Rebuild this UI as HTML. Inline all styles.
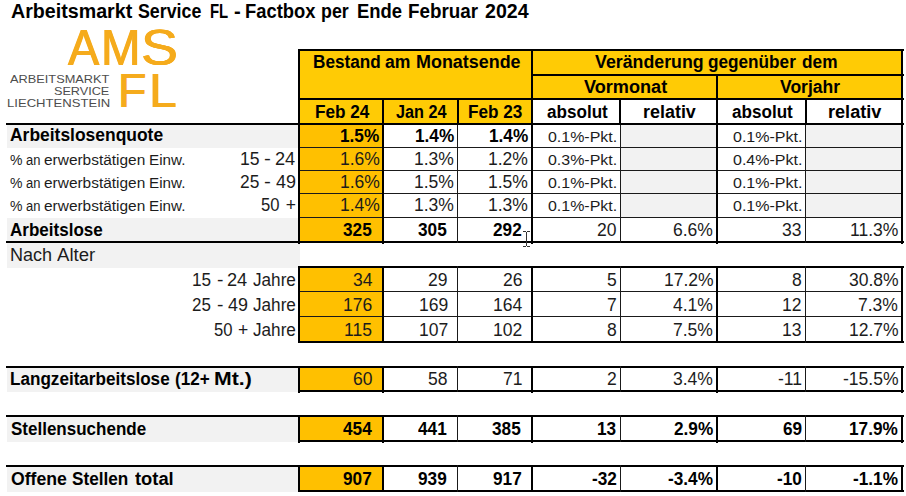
<!DOCTYPE html>
<html lang="de">
<head>
<meta charset="utf-8">
<title>Arbeitsmarkt Service FL - Factbox</title>
<style>
html,body{margin:0;padding:0;background:#fff;}
#pg{position:relative;width:906px;height:496px;overflow:hidden;background:#fff;font-family:"Liberation Sans",sans-serif;}
#pg i{position:absolute;display:block;}
#pg span{position:absolute;display:block;white-space:nowrap;line-height:0;height:0;transform-origin:0 0;font-weight:normal;}
#pg span.b{font-weight:bold;}
</style>
</head>
<body>
<div id="pg">
<i style="left:300px;top:51px;width:231px;height:47px;background:#FFCB05"></i>
<i style="left:300px;top:100px;width:231px;height:23px;background:#FFCB05"></i>
<i style="left:533px;top:51px;width:368px;height:23px;background:#FFCB05"></i>
<i style="left:533px;top:76px;width:368px;height:22px;background:#FFCB05"></i>
<i style="left:300px;top:125px;width:82px;height:116px;background:#FFC000"></i>
<i style="left:300px;top:268px;width:82px;height:73px;background:#FFC000"></i>
<i style="left:300px;top:368px;width:82px;height:22px;background:#FFC000"></i>
<i style="left:300px;top:417px;width:82px;height:23px;background:#FFC000"></i>
<i style="left:300px;top:467px;width:82px;height:23px;background:#FFC000"></i>
<i style="left:621px;top:125px;width:95px;height:92px;background:#F2F2F2"></i>
<i style="left:806px;top:125px;width:95px;height:92px;background:#F2F2F2"></i>
<i style="left:7px;top:125px;width:291px;height:23px;background:#F2F2F2"></i>
<i style="left:7px;top:218px;width:291px;height:23px;background:#F2F2F2"></i>
<i style="left:7px;top:243px;width:293px;height:25px;background:#F2F2F2"></i>
<i style="left:7px;top:368px;width:291px;height:24px;background:#F2F2F2"></i>
<i style="left:7px;top:417px;width:291px;height:25px;background:#F2F2F2"></i>
<i style="left:7px;top:467px;width:291px;height:25px;background:#F2F2F2"></i>
<i style="left:298px;top:49px;width:606px;height:2px;background:#000"></i>
<i style="left:531px;top:74px;width:373px;height:2px;background:#000"></i>
<i style="left:298px;top:98px;width:606px;height:2px;background:#000"></i>
<i style="left:6px;top:123px;width:898px;height:2px;background:#000"></i>
<i style="left:6px;top:241px;width:898px;height:2px;background:#000"></i>
<i style="left:298px;top:266px;width:606px;height:2px;background:#000"></i>
<i style="left:298px;top:341px;width:606px;height:2px;background:#000"></i>
<i style="left:6px;top:366px;width:898px;height:2px;background:#000"></i>
<i style="left:298px;top:390px;width:606px;height:2px;background:#000"></i>
<i style="left:6px;top:415px;width:898px;height:2px;background:#000"></i>
<i style="left:298px;top:440px;width:606px;height:2px;background:#000"></i>
<i style="left:6px;top:465px;width:898px;height:2px;background:#000"></i>
<i style="left:298px;top:490px;width:606px;height:2px;background:#000"></i>
<i style="left:300px;top:147px;width:601px;height:1px;background:#1a1a1a"></i>
<i style="left:300px;top:170px;width:601px;height:1px;background:#1a1a1a"></i>
<i style="left:300px;top:193px;width:601px;height:1px;background:#1a1a1a"></i>
<i style="left:300px;top:217px;width:601px;height:1px;background:#1a1a1a"></i>
<i style="left:300px;top:291px;width:601px;height:1px;background:#1a1a1a"></i>
<i style="left:300px;top:316px;width:601px;height:1px;background:#1a1a1a"></i>
<i style="left:298px;top:49px;width:2px;height:195px;background:#000"></i>
<i style="left:382px;top:98px;width:2px;height:146px;background:#000"></i>
<i style="left:531px;top:49px;width:2px;height:195px;background:#000"></i>
<i style="left:716px;top:74px;width:2px;height:170px;background:#000"></i>
<i style="left:901px;top:49px;width:2px;height:195px;background:#000"></i>
<i style="left:457px;top:98px;width:2px;height:27px;background:#000"></i>
<i style="left:457px;top:125px;width:1px;height:118px;background:#1a1a1a"></i>
<i style="left:619px;top:98px;width:2px;height:27px;background:#000"></i>
<i style="left:620px;top:125px;width:1px;height:118px;background:#1a1a1a"></i>
<i style="left:805px;top:98px;width:2px;height:27px;background:#000"></i>
<i style="left:805px;top:125px;width:1px;height:118px;background:#1a1a1a"></i>
<i style="left:298px;top:266px;width:2px;height:77px;background:#000"></i>
<i style="left:382px;top:266px;width:2px;height:77px;background:#000"></i>
<i style="left:531px;top:266px;width:2px;height:77px;background:#000"></i>
<i style="left:716px;top:266px;width:2px;height:77px;background:#000"></i>
<i style="left:901px;top:266px;width:2px;height:77px;background:#000"></i>
<i style="left:457px;top:266px;width:1px;height:77px;background:#1a1a1a"></i>
<i style="left:620px;top:266px;width:1px;height:77px;background:#1a1a1a"></i>
<i style="left:805px;top:266px;width:1px;height:77px;background:#1a1a1a"></i>
<i style="left:298px;top:366px;width:2px;height:27px;background:#000"></i>
<i style="left:382px;top:366px;width:2px;height:27px;background:#000"></i>
<i style="left:531px;top:366px;width:2px;height:27px;background:#000"></i>
<i style="left:716px;top:366px;width:2px;height:27px;background:#000"></i>
<i style="left:901px;top:366px;width:2px;height:27px;background:#000"></i>
<i style="left:457px;top:366px;width:1px;height:26px;background:#1a1a1a"></i>
<i style="left:620px;top:366px;width:1px;height:26px;background:#1a1a1a"></i>
<i style="left:805px;top:366px;width:1px;height:26px;background:#1a1a1a"></i>
<i style="left:298px;top:415px;width:2px;height:28px;background:#000"></i>
<i style="left:382px;top:415px;width:2px;height:28px;background:#000"></i>
<i style="left:531px;top:415px;width:2px;height:28px;background:#000"></i>
<i style="left:716px;top:415px;width:2px;height:28px;background:#000"></i>
<i style="left:901px;top:415px;width:2px;height:28px;background:#000"></i>
<i style="left:457px;top:415px;width:1px;height:27px;background:#1a1a1a"></i>
<i style="left:620px;top:415px;width:1px;height:27px;background:#1a1a1a"></i>
<i style="left:805px;top:415px;width:1px;height:27px;background:#1a1a1a"></i>
<i style="left:298px;top:465px;width:2px;height:27px;background:#000"></i>
<i style="left:382px;top:465px;width:2px;height:27px;background:#000"></i>
<i style="left:531px;top:465px;width:2px;height:27px;background:#000"></i>
<i style="left:716px;top:465px;width:2px;height:27px;background:#000"></i>
<i style="left:901px;top:465px;width:2px;height:27px;background:#000"></i>
<i style="left:457px;top:465px;width:1px;height:27px;background:#1a1a1a"></i>
<i style="left:620px;top:465px;width:1px;height:27px;background:#1a1a1a"></i>
<i style="left:805px;top:465px;width:1px;height:27px;background:#1a1a1a"></i>
<i style="left:526px;top:232px;width:1px;height:14px;background:#333"></i>
<i style="left:523px;top:231px;width:3px;height:1px;background:#333"></i>
<i style="left:527px;top:231px;width:3px;height:1px;background:#333"></i>
<i style="left:523px;top:246px;width:3px;height:1px;background:#333"></i>
<i style="left:527px;top:246px;width:3px;height:1px;background:#333"></i>
<span class="b" style="left:11.09px;top:11.10px;font-size:19.4px;color:#000;transform:scaleX(1.0134)">Arbeitsmarkt</span>
<span class="b" style="left:137.94px;top:11.10px;font-size:19.4px;color:#000;transform:scaleX(0.9181)">Service</span>
<span class="b" style="left:209.64px;top:11.10px;font-size:19.4px;color:#000;transform:scaleX(0.7682)">FL</span>
<span class="b" style="left:234.02px;top:11.10px;font-size:19.4px;color:#000;transform:scaleX(1.0400)">-</span>
<span class="b" style="left:245.12px;top:11.10px;font-size:19.4px;color:#000;transform:scaleX(0.9471)">Factbox</span>
<span class="b" style="left:321.45px;top:11.10px;font-size:19.4px;color:#000;transform:scaleX(0.9183)">per</span>
<span class="b" style="left:356.51px;top:11.10px;font-size:19.4px;color:#000;transform:scaleX(0.9516)">Ende</span>
<span class="b" style="left:408.09px;top:11.10px;font-size:19.4px;color:#000;transform:scaleX(0.9696)">Februar</span>
<span class="b" style="left:484.64px;top:11.10px;font-size:19.4px;color:#000;transform:scaleX(1.0107)">2024</span>
<span class="b" style="left:312.87px;top:62.10px;font-size:17.5px;color:#000;transform:scaleX(0.9813)">Bestand</span>
<span class="b" style="left:385.40px;top:62.10px;font-size:17.5px;color:#000;transform:scaleX(1.0063)">am</span>
<span class="b" style="left:415.62px;top:62.10px;font-size:17.5px;color:#000;transform:scaleX(1.0244)">Monatsende</span>
<span class="b" style="left:595.25px;top:62.10px;font-size:17.5px;color:#000;transform:scaleX(1.0161)">Veränderung</span>
<span class="b" style="left:708.36px;top:62.10px;font-size:17.5px;color:#000;transform:scaleX(0.9819)">gegenüber</span>
<span class="b" style="left:801.56px;top:62.10px;font-size:17.5px;color:#000;transform:scaleX(0.9869)">dem</span>
<span class="b" style="left:584.24px;top:87.10px;font-size:17.5px;color:#000;transform:scaleX(1.0350)">Vormonat</span>
<span class="b" style="left:780.35px;top:87.10px;font-size:17.5px;color:#000;transform:scaleX(1.0017)">Vorjahr</span>
<span class="b" style="left:314.67px;top:112.10px;font-size:17.5px;color:#000;transform:scaleX(0.9815)">Feb 24</span>
<span class="b" style="left:395.67px;top:112.10px;font-size:17.5px;color:#000;transform:scaleX(0.9272)">Jan 24</span>
<span class="b" style="left:468.27px;top:112.10px;font-size:17.5px;color:#000;transform:scaleX(0.9813)">Feb 23</span>
<span class="b" style="left:546.71px;top:112.10px;font-size:17.5px;color:#000;transform:scaleX(0.9772)">absolut</span>
<span class="b" style="left:642.82px;top:112.10px;font-size:17.5px;color:#000;transform:scaleX(1.0249)">relativ</span>
<span class="b" style="left:731.51px;top:112.10px;font-size:17.5px;color:#000;transform:scaleX(0.9772)">absolut</span>
<span class="b" style="left:827.71px;top:112.10px;font-size:17.5px;color:#000;transform:scaleX(1.0348)">relativ</span>
<span class="b" style="left:10.40px;top:135.10px;font-size:17.5px;color:#000;transform:scaleX(0.9967)">Arbeitslosenquote</span>
<span class="b" style="left:10.41px;top:230.10px;font-size:17.5px;color:#000;transform:scaleX(0.9729)">Arbeitslose</span>
<span class="b" style="left:10.38px;top:379.11px;font-size:17.5px;color:#000;transform:scaleX(0.9771)">Langzeitarbeitslose</span>
<span class="b" style="left:174.72px;top:379.11px;font-size:17.5px;color:#000;transform:scaleX(0.9778)">(12+</span>
<span class="b" style="left:214.38px;top:379.11px;font-size:17.5px;color:#000;transform:scaleX(1.2138)">Mt.)</span>
<span class="b" style="left:11.11px;top:429.11px;font-size:17.5px;color:#000;transform:scaleX(0.9717)">Stellensuchende</span>
<span class="b" style="left:10.84px;top:479.11px;font-size:17.5px;color:#000;transform:scaleX(1.0093)">Offene</span>
<span class="b" style="left:72.11px;top:479.11px;font-size:17.5px;color:#000;transform:scaleX(0.9812)">Stellen</span>
<span class="b" style="left:134.54px;top:479.11px;font-size:17.5px;color:#000;transform:scaleX(1.0479)">total</span>
<span style="left:10.35px;top:255.11px;font-size:17.5px;color:#1c1c1c;transform:scaleX(1.0301)">Nach</span>
<span style="left:57.00px;top:255.11px;font-size:17.5px;color:#1c1c1c;transform:scaleX(1.0629)">Alter</span>
<span style="left:10.10px;top:160.10px;font-size:14.0px;color:#1c1c1c;transform:scaleX(1.0000)">%</span>
<span style="left:26.04px;top:160.10px;font-size:14.0px;color:#1c1c1c;transform:scaleX(0.9263)">an</span>
<span style="left:44.25px;top:160.10px;font-size:14.0px;color:#1c1c1c;transform:scaleX(1.1028)">erwerbstätigen</span>
<span style="left:148.74px;top:160.10px;font-size:14.0px;color:#1c1c1c;transform:scaleX(1.0871)">Einw.</span>
<span style="left:10.10px;top:183.10px;font-size:14.0px;color:#1c1c1c;transform:scaleX(1.0000)">%</span>
<span style="left:26.04px;top:183.10px;font-size:14.0px;color:#1c1c1c;transform:scaleX(0.9263)">an</span>
<span style="left:44.25px;top:183.10px;font-size:14.0px;color:#1c1c1c;transform:scaleX(1.1028)">erwerbstätigen</span>
<span style="left:148.74px;top:183.10px;font-size:14.0px;color:#1c1c1c;transform:scaleX(1.0871)">Einw.</span>
<span style="left:10.10px;top:206.10px;font-size:14.0px;color:#1c1c1c;transform:scaleX(1.0000)">%</span>
<span style="left:26.04px;top:206.10px;font-size:14.0px;color:#1c1c1c;transform:scaleX(0.9263)">an</span>
<span style="left:44.25px;top:206.10px;font-size:14.0px;color:#1c1c1c;transform:scaleX(1.1028)">erwerbstätigen</span>
<span style="left:148.74px;top:206.10px;font-size:14.0px;color:#1c1c1c;transform:scaleX(1.0871)">Einw.</span>
<span style="left:239.64px;top:159.10px;font-size:17.5px;color:#1c1c1c;transform:scaleX(1.0057)">15</span>
<span style="left:264.12px;top:159.10px;font-size:17.5px;color:#1c1c1c;transform:scaleX(1.1765)">-</span>
<span style="left:275.16px;top:159.10px;font-size:17.5px;color:#1c1c1c;transform:scaleX(1.0389)">24</span>
<span style="left:239.91px;top:182.10px;font-size:17.5px;color:#1c1c1c;transform:scaleX(0.9915)">25</span>
<span style="left:264.12px;top:182.10px;font-size:17.5px;color:#1c1c1c;transform:scaleX(1.1765)">-</span>
<span style="left:275.69px;top:182.10px;font-size:17.5px;color:#1c1c1c;transform:scaleX(1.0247)">49</span>
<span style="left:261.39px;top:205.10px;font-size:17.5px;color:#1c1c1c;transform:scaleX(0.9500)">50</span>
<span style="left:285.65px;top:205.10px;font-size:17.5px;color:#1c1c1c;transform:scaleX(1.0000)">+</span>
<span style="left:191.77px;top:280.11px;font-size:17.5px;color:#1c1c1c;transform:scaleX(0.9829)">15</span>
<span style="left:217.27px;top:280.11px;font-size:17.5px;color:#1c1c1c;transform:scaleX(1.1059)">-</span>
<span style="left:227.46px;top:280.11px;font-size:17.5px;color:#1c1c1c;transform:scaleX(1.0389)">24</span>
<span style="left:252.85px;top:280.11px;font-size:17.5px;color:#1c1c1c;transform:scaleX(0.9801)">Jahre</span>
<span style="left:192.03px;top:305.11px;font-size:17.5px;color:#1c1c1c;transform:scaleX(0.9690)">25</span>
<span style="left:217.27px;top:305.11px;font-size:17.5px;color:#1c1c1c;transform:scaleX(1.1059)">-</span>
<span style="left:227.99px;top:305.11px;font-size:17.5px;color:#1c1c1c;transform:scaleX(1.0247)">49</span>
<span style="left:252.85px;top:305.11px;font-size:17.5px;color:#1c1c1c;transform:scaleX(0.9801)">Jahre</span>
<span style="left:213.69px;top:330.11px;font-size:17.5px;color:#1c1c1c;transform:scaleX(0.9500)">50</span>
<span style="left:237.95px;top:330.11px;font-size:17.5px;color:#1c1c1c;transform:scaleX(1.0000)">+</span>
<span style="left:252.85px;top:330.11px;font-size:17.5px;color:#1c1c1c;transform:scaleX(0.9801)">Jahre</span>
<span class="b" style="left:340.35px;top:136.10px;font-size:17.5px;color:#000;transform:scaleX(0.9835)">1.5%</span>
<span class="b" style="left:414.85px;top:136.10px;font-size:17.5px;color:#000;transform:scaleX(0.9835)">1.4%</span>
<span class="b" style="left:488.75px;top:136.10px;font-size:17.5px;color:#000;transform:scaleX(0.9835)">1.4%</span>
<span style="left:548.16px;top:137.10px;font-size:14.8px;color:#1c1c1c;transform:scaleX(1.0779)">0.1%-Pkt.</span>
<span style="left:733.06px;top:137.10px;font-size:14.8px;color:#1c1c1c;transform:scaleX(1.0827)">0.1%-Pkt.</span>
<span style="left:339.88px;top:159.10px;font-size:17.5px;color:#1c1c1c;transform:scaleX(1.0018)">1.6%</span>
<span style="left:414.38px;top:159.10px;font-size:17.5px;color:#1c1c1c;transform:scaleX(1.0018)">1.3%</span>
<span style="left:488.28px;top:159.10px;font-size:17.5px;color:#1c1c1c;transform:scaleX(1.0018)">1.2%</span>
<span style="left:548.16px;top:160.10px;font-size:14.8px;color:#1c1c1c;transform:scaleX(1.0779)">0.3%-Pkt.</span>
<span style="left:733.06px;top:160.10px;font-size:14.8px;color:#1c1c1c;transform:scaleX(1.0827)">0.4%-Pkt.</span>
<span style="left:339.88px;top:182.10px;font-size:17.5px;color:#1c1c1c;transform:scaleX(1.0018)">1.6%</span>
<span style="left:414.38px;top:182.10px;font-size:17.5px;color:#1c1c1c;transform:scaleX(1.0018)">1.5%</span>
<span style="left:488.28px;top:182.10px;font-size:17.5px;color:#1c1c1c;transform:scaleX(1.0018)">1.5%</span>
<span style="left:548.16px;top:183.10px;font-size:14.8px;color:#1c1c1c;transform:scaleX(1.0779)">0.1%-Pkt.</span>
<span style="left:733.06px;top:183.10px;font-size:14.8px;color:#1c1c1c;transform:scaleX(1.0827)">0.1%-Pkt.</span>
<span style="left:339.88px;top:205.10px;font-size:17.5px;color:#1c1c1c;transform:scaleX(1.0018)">1.4%</span>
<span style="left:414.38px;top:205.10px;font-size:17.5px;color:#1c1c1c;transform:scaleX(1.0018)">1.3%</span>
<span style="left:488.28px;top:205.10px;font-size:17.5px;color:#1c1c1c;transform:scaleX(1.0018)">1.3%</span>
<span style="left:548.16px;top:206.10px;font-size:14.8px;color:#1c1c1c;transform:scaleX(1.0779)">0.1%-Pkt.</span>
<span style="left:733.06px;top:206.10px;font-size:14.8px;color:#1c1c1c;transform:scaleX(1.0827)">0.1%-Pkt.</span>
<span class="b" style="left:343.02px;top:230.10px;font-size:17.5px;color:#000;transform:scaleX(0.9835)">325</span>
<span class="b" style="left:417.72px;top:230.10px;font-size:17.5px;color:#000;transform:scaleX(0.9835)">305</span>
<span class="b" style="left:492.67px;top:230.10px;font-size:17.5px;color:#000;transform:scaleX(0.9835)">292</span>
<span style="left:596.92px;top:230.10px;font-size:17.5px;color:#1c1c1c;transform:scaleX(1.0018)">20</span>
<span style="left:673.28px;top:230.10px;font-size:17.5px;color:#1c1c1c;transform:scaleX(1.0018)">6.6%</span>
<span style="left:782.22px;top:230.10px;font-size:17.5px;color:#1c1c1c;transform:scaleX(1.0018)">33</span>
<span style="left:849.96px;top:230.10px;font-size:17.5px;color:#1c1c1c;transform:scaleX(1.0018)">11.3%</span>
<span style="left:352.57px;top:280.11px;font-size:17.5px;color:#1c1c1c;transform:scaleX(1.0018)">34</span>
<span style="left:428.12px;top:280.11px;font-size:17.5px;color:#1c1c1c;transform:scaleX(1.0018)">29</span>
<span style="left:502.62px;top:280.11px;font-size:17.5px;color:#1c1c1c;transform:scaleX(1.0018)">26</span>
<span style="left:606.68px;top:280.11px;font-size:17.5px;color:#1c1c1c;transform:scaleX(1.0018)">5</span>
<span style="left:663.51px;top:280.11px;font-size:17.5px;color:#1c1c1c;transform:scaleX(1.0018)">17.2%</span>
<span style="left:791.98px;top:280.11px;font-size:17.5px;color:#1c1c1c;transform:scaleX(1.0018)">8</span>
<span style="left:848.71px;top:280.11px;font-size:17.5px;color:#1c1c1c;transform:scaleX(1.0018)">30.8%</span>
<span style="left:343.05px;top:305.11px;font-size:17.5px;color:#1c1c1c;transform:scaleX(1.0018)">176</span>
<span style="left:418.60px;top:305.11px;font-size:17.5px;color:#1c1c1c;transform:scaleX(1.0018)">169</span>
<span style="left:492.60px;top:305.11px;font-size:17.5px;color:#1c1c1c;transform:scaleX(1.0018)">164</span>
<span style="left:606.93px;top:305.11px;font-size:17.5px;color:#1c1c1c;transform:scaleX(1.0018)">7</span>
<span style="left:673.28px;top:305.11px;font-size:17.5px;color:#1c1c1c;transform:scaleX(1.0018)">4.1%</span>
<span style="left:782.47px;top:305.11px;font-size:17.5px;color:#1c1c1c;transform:scaleX(1.0018)">12</span>
<span style="left:858.48px;top:305.11px;font-size:17.5px;color:#1c1c1c;transform:scaleX(1.0018)">7.3%</span>
<span style="left:344.30px;top:330.11px;font-size:17.5px;color:#1c1c1c;transform:scaleX(1.0018)">115</span>
<span style="left:418.60px;top:330.11px;font-size:17.5px;color:#1c1c1c;transform:scaleX(1.0018)">107</span>
<span style="left:493.10px;top:330.11px;font-size:17.5px;color:#1c1c1c;transform:scaleX(1.0018)">102</span>
<span style="left:606.68px;top:330.11px;font-size:17.5px;color:#1c1c1c;transform:scaleX(1.0018)">8</span>
<span style="left:673.28px;top:330.11px;font-size:17.5px;color:#1c1c1c;transform:scaleX(1.0018)">7.5%</span>
<span style="left:782.22px;top:330.11px;font-size:17.5px;color:#1c1c1c;transform:scaleX(1.0018)">13</span>
<span style="left:848.71px;top:330.11px;font-size:17.5px;color:#1c1c1c;transform:scaleX(1.0018)">12.7%</span>
<span style="left:352.82px;top:379.11px;font-size:17.5px;color:#1c1c1c;transform:scaleX(1.0018)">60</span>
<span style="left:428.12px;top:379.11px;font-size:17.5px;color:#1c1c1c;transform:scaleX(1.0018)">58</span>
<span style="left:502.62px;top:379.11px;font-size:17.5px;color:#1c1c1c;transform:scaleX(1.0018)">71</span>
<span style="left:606.93px;top:379.11px;font-size:17.5px;color:#1c1c1c;transform:scaleX(1.0018)">2</span>
<span style="left:673.28px;top:379.11px;font-size:17.5px;color:#1c1c1c;transform:scaleX(1.0018)">3.4%</span>
<span style="left:777.71px;top:379.11px;font-size:17.5px;color:#1c1c1c;transform:scaleX(1.0018)">-11</span>
<span style="left:842.95px;top:379.11px;font-size:17.5px;color:#1c1c1c;transform:scaleX(1.0018)">-15.5%</span>
<span class="b" style="left:342.78px;top:429.11px;font-size:17.5px;color:#000;transform:scaleX(0.9835)">454</span>
<span class="b" style="left:417.72px;top:429.11px;font-size:17.5px;color:#000;transform:scaleX(0.9835)">441</span>
<span class="b" style="left:492.42px;top:429.11px;font-size:17.5px;color:#000;transform:scaleX(0.9835)">385</span>
<span class="b" style="left:597.26px;top:429.11px;font-size:17.5px;color:#000;transform:scaleX(0.9835)">13</span>
<span class="b" style="left:673.75px;top:429.11px;font-size:17.5px;color:#000;transform:scaleX(0.9835)">2.9%</span>
<span class="b" style="left:782.56px;top:429.11px;font-size:17.5px;color:#000;transform:scaleX(0.9835)">69</span>
<span class="b" style="left:849.36px;top:429.11px;font-size:17.5px;color:#000;transform:scaleX(0.9835)">17.9%</span>
<span class="b" style="left:343.27px;top:479.11px;font-size:17.5px;color:#000;transform:scaleX(0.9835)">907</span>
<span class="b" style="left:417.97px;top:479.11px;font-size:17.5px;color:#000;transform:scaleX(0.9835)">939</span>
<span class="b" style="left:492.67px;top:479.11px;font-size:17.5px;color:#000;transform:scaleX(0.9835)">917</span>
<span class="b" style="left:591.60px;top:479.11px;font-size:17.5px;color:#000;transform:scaleX(0.9835)">-32</span>
<span class="b" style="left:668.10px;top:479.11px;font-size:17.5px;color:#000;transform:scaleX(0.9835)">-3.4%</span>
<span class="b" style="left:776.90px;top:479.11px;font-size:17.5px;color:#000;transform:scaleX(0.9835)">-10</span>
<span class="b" style="left:853.30px;top:479.11px;font-size:17.5px;color:#000;transform:scaleX(0.9835)">-1.1%</span>
<span style="left:67.76px;top:47.52px;font-size:49.6px;color:#F5AB1C;transform:scaleX(0.9466);text-shadow:0.63px 0 0 #F5AB1C,-0.63px 0 0 #F5AB1C">A</span>
<span style="left:100.77px;top:47.52px;font-size:49.6px;color:#F5AB1C;transform:scaleX(0.9564);text-shadow:0.63px 0 0 #F5AB1C,-0.63px 0 0 #F5AB1C">M</span>
<span style="left:141.28px;top:48.02px;font-size:49.6px;color:#F5AB1C;transform:scaleX(1.1193);text-shadow:0.54px 0 0 #F5AB1C,-0.54px 0 0 #F5AB1C">S</span>
<span style="left:117.77px;top:90.80px;font-size:47.4px;color:#F5AB1C;transform:scaleX(0.9826);text-shadow:0.61px 0 0 #F5AB1C,-0.61px 0 0 #F5AB1C">F</span>
<span style="left:148.50px;top:90.80px;font-size:47.4px;color:#F5AB1C;transform:scaleX(1.0506);text-shadow:0.57px 0 0 #F5AB1C,-0.57px 0 0 #F5AB1C">L</span>
<span style="left:10.30px;top:78.72px;font-size:10.9px;color:#4d4d4d;transform:scaleX(1.1728)">ARBEITSMARKT</span>
<span style="left:54.02px;top:90.72px;font-size:10.9px;color:#4d4d4d;transform:scaleX(1.1615)">SERVICE</span>
<span style="left:6.80px;top:103.00px;font-size:10.9px;color:#4d4d4d;transform:scaleX(1.2012)">LIECHTENSTEIN</span>
</div>
</body>
</html>
